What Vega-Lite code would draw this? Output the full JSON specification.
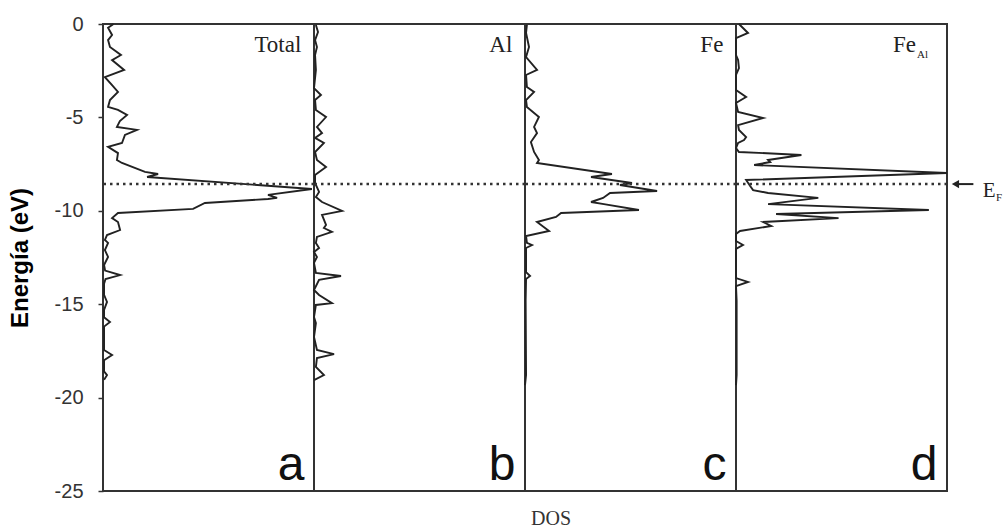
{
  "$schema": "https://vega.github.io/schema/vega-lite/v6.json",
  "background": "white",
  "bounds": "flush",
  "padding": {"left": 8, "top": 14, "right": 0, "bottom": 5},
  "data": {"values": [
    {"panel":"a","name":"Total","letter":"a"},
    {"panel":"b","name":"Al","letter":"b"},
    {"panel":"c","name":"Fe","letter":"c"},
    {"panel":"d","name":"Fe","sub":"Al","letter":"d"},
    {"panel":"a","energy":0,"dos":0.05},
    {"panel":"a","energy":-0.2,"dos":0.024},
    {"panel":"a","energy":-0.59,"dos":0.043},
    {"panel":"a","energy":-0.86,"dos":0.024},
    {"panel":"a","energy":-1.23,"dos":0.033},
    {"panel":"a","energy":-1.66,"dos":0.085},
    {"panel":"a","energy":-1.93,"dos":0.043},
    {"panel":"a","energy":-2.46,"dos":0.1},
    {"panel":"a","energy":-2.84,"dos":0.009},
    {"panel":"a","energy":-3.27,"dos":0.043},
    {"panel":"a","energy":-3.64,"dos":0.071},
    {"panel":"a","energy":-4.07,"dos":0.033},
    {"panel":"a","energy":-4.44,"dos":0.024},
    {"panel":"a","energy":-4.6,"dos":0.071},
    {"panel":"a","energy":-4.87,"dos":0.114},
    {"panel":"a","energy":-5.2,"dos":0.08},
    {"panel":"a","energy":-5.51,"dos":0.066},
    {"panel":"a","energy":-5.67,"dos":0.161},
    {"panel":"a","energy":-5.94,"dos":0.104},
    {"panel":"a","energy":-6.37,"dos":0.09},
    {"panel":"a","energy":-6.58,"dos":0.024},
    {"panel":"a","energy":-6.91,"dos":0.071},
    {"panel":"a","energy":-7.28,"dos":0.066},
    {"panel":"a","energy":-7.44,"dos":0.09},
    {"panel":"a","energy":-7.92,"dos":0.199},
    {"panel":"a","energy":-8.03,"dos":0.261},
    {"panel":"a","energy":-8.19,"dos":0.209},
    {"panel":"a","energy":-8.83,"dos":0.99},
    {"panel":"a","energy":-9.15,"dos":0.782},
    {"panel":"a","energy":-9.31,"dos":0.825},
    {"panel":"a","energy":-9.37,"dos":0.782},
    {"panel":"a","energy":-9.58,"dos":0.483},
    {"panel":"a","energy":-9.9,"dos":0.427},
    {"panel":"a","energy":-10.12,"dos":0.071},
    {"panel":"a","energy":-10.39,"dos":0.043},
    {"panel":"a","energy":-10.6,"dos":0.071},
    {"panel":"a","energy":-11.03,"dos":0.081},
    {"panel":"a","energy":-11.3,"dos":0.019},
    {"panel":"a","energy":-11.56,"dos":0.009},
    {"panel":"a","energy":-11.72,"dos":0.024},
    {"panel":"a","energy":-12.1,"dos":0.009},
    {"panel":"a","energy":-12.47,"dos":0.024},
    {"panel":"a","energy":-12.9,"dos":0.005},
    {"panel":"a","energy":-13.2,"dos":0.01},
    {"panel":"a","energy":-13.44,"dos":0.081},
    {"panel":"a","energy":-13.65,"dos":0.012},
    {"panel":"a","energy":-13.9,"dos":0.005},
    {"panel":"a","energy":-14.5,"dos":0.005},
    {"panel":"a","energy":-14.88,"dos":0.019},
    {"panel":"a","energy":-15.3,"dos":0.005},
    {"panel":"a","energy":-15.7,"dos":0.005},
    {"panel":"a","energy":-15.95,"dos":0.033},
    {"panel":"a","energy":-16.2,"dos":0.005},
    {"panel":"a","energy":-17.45,"dos":0.005},
    {"panel":"a","energy":-17.72,"dos":0.043},
    {"panel":"a","energy":-18.0,"dos":0.005},
    {"panel":"a","energy":-18.6,"dos":0.005},
    {"panel":"a","energy":-18.8,"dos":0.019},
    {"panel":"a","energy":-19.05,"dos":0.005},
    {"panel":"b","energy":-0.05,"dos":0.009},
    {"panel":"b","energy":-0.43,"dos":0.019},
    {"panel":"b","energy":-0.86,"dos":0.005},
    {"panel":"b","energy":-1.23,"dos":0.014},
    {"panel":"b","energy":-1.66,"dos":0.005},
    {"panel":"b","energy":-2.46,"dos":0.009},
    {"panel":"b","energy":-3.43,"dos":0.0},
    {"panel":"b","energy":-3.8,"dos":0.033},
    {"panel":"b","energy":-4.07,"dos":0.005},
    {"panel":"b","energy":-4.6,"dos":0.009},
    {"panel":"b","energy":-4.98,"dos":0.057},
    {"panel":"b","energy":-5.51,"dos":0.014},
    {"panel":"b","energy":-5.84,"dos":0.038},
    {"panel":"b","energy":-6.1,"dos":0.005},
    {"panel":"b","energy":-6.37,"dos":0.047},
    {"panel":"b","energy":-6.85,"dos":0.005},
    {"panel":"b","energy":-7.28,"dos":0.014},
    {"panel":"b","energy":-7.66,"dos":0.057},
    {"panel":"b","energy":-8.08,"dos":0.005},
    {"panel":"b","energy":-8.51,"dos":0.005},
    {"panel":"b","energy":-8.99,"dos":0.024},
    {"panel":"b","energy":-9.26,"dos":0.009},
    {"panel":"b","energy":-9.53,"dos":0.038},
    {"panel":"b","energy":-10.01,"dos":0.133},
    {"panel":"b","energy":-10.22,"dos":0.038},
    {"panel":"b","energy":-10.76,"dos":0.057},
    {"panel":"b","energy":-10.92,"dos":0.047},
    {"panel":"b","energy":-11.13,"dos":0.085},
    {"panel":"b","energy":-11.4,"dos":0.014},
    {"panel":"b","energy":-11.72,"dos":0.009},
    {"panel":"b","energy":-11.99,"dos":0.024},
    {"panel":"b","energy":-12.21,"dos":0.0},
    {"panel":"b","energy":-12.47,"dos":0.014},
    {"panel":"b","energy":-12.79,"dos":0.0},
    {"panel":"b","energy":-13.33,"dos":0.009},
    {"panel":"b","energy":-13.49,"dos":0.128},
    {"panel":"b","energy":-13.7,"dos":0.024},
    {"panel":"b","energy":-14.24,"dos":0.0},
    {"panel":"b","energy":-14.51,"dos":0.024},
    {"panel":"b","energy":-14.94,"dos":0.085},
    {"panel":"b","energy":-15.04,"dos":0.009},
    {"panel":"b","energy":-15.69,"dos":0.0},
    {"panel":"b","energy":-16.01,"dos":0.009},
    {"panel":"b","energy":-16.76,"dos":0.0},
    {"panel":"b","energy":-17.45,"dos":0.014},
    {"panel":"b","energy":-17.67,"dos":0.095},
    {"panel":"b","energy":-17.88,"dos":0.014},
    {"panel":"b","energy":-18.36,"dos":0.009},
    {"panel":"b","energy":-18.79,"dos":0.047},
    {"panel":"b","energy":-19.06,"dos":0.0},
    {"panel":"c","energy":-0.05,"dos":0.009},
    {"panel":"c","energy":-0.48,"dos":0.005},
    {"panel":"c","energy":-1.23,"dos":0.019},
    {"panel":"c","energy":-1.77,"dos":0.005},
    {"panel":"c","energy":-2.46,"dos":0.057},
    {"panel":"c","energy":-2.73,"dos":0.005},
    {"panel":"c","energy":-3.37,"dos":0.009},
    {"panel":"c","energy":-3.64,"dos":0.043},
    {"panel":"c","energy":-4.07,"dos":0.005},
    {"panel":"c","energy":-4.44,"dos":0.009},
    {"panel":"c","energy":-4.98,"dos":0.066},
    {"panel":"c","energy":-5.51,"dos":0.043},
    {"panel":"c","energy":-5.84,"dos":0.057},
    {"panel":"c","energy":-6.32,"dos":0.028},
    {"panel":"c","energy":-6.85,"dos":0.043},
    {"panel":"c","energy":-7.28,"dos":0.066},
    {"panel":"c","energy":-7.44,"dos":0.057},
    {"panel":"c","energy":-8.03,"dos":0.412},
    {"panel":"c","energy":-8.19,"dos":0.313},
    {"panel":"c","energy":-8.51,"dos":0.507},
    {"panel":"c","energy":-8.62,"dos":0.45},
    {"panel":"c","energy":-8.94,"dos":0.626},
    {"panel":"c","energy":-9.05,"dos":0.403},
    {"panel":"c","energy":-9.31,"dos":0.37},
    {"panel":"c","energy":-9.53,"dos":0.313},
    {"panel":"c","energy":-9.64,"dos":0.374},
    {"panel":"c","energy":-9.96,"dos":0.54},
    {"panel":"c","energy":-10.12,"dos":0.171},
    {"panel":"c","energy":-10.33,"dos":0.147},
    {"panel":"c","energy":-10.6,"dos":0.057},
    {"panel":"c","energy":-11.08,"dos":0.114},
    {"panel":"c","energy":-11.35,"dos":0.005},
    {"panel":"c","energy":-11.72,"dos":0.009},
    {"panel":"c","energy":-11.83,"dos":0.033},
    {"panel":"c","energy":-11.99,"dos":0.005},
    {"panel":"c","energy":-12.47,"dos":0.005},
    {"panel":"c","energy":-13.28,"dos":0.005},
    {"panel":"c","energy":-13.49,"dos":0.024},
    {"panel":"c","energy":-13.65,"dos":0.005},
    {"panel":"c","energy":-14.78,"dos":0.003},
    {"panel":"c","energy":-18.79,"dos":0.005},
    {"panel":"c","energy":-19.33,"dos":0.0},
    {"panel":"d","energy":0,"dos":0.014},
    {"panel":"d","energy":-0.48,"dos":0.057},
    {"panel":"d","energy":-0.75,"dos":0.0},
    {"panel":"d","energy":-1.66,"dos":0.0},
    {"panel":"d","energy":-1.93,"dos":0.01},
    {"panel":"d","energy":-2.36,"dos":0.014},
    {"panel":"d","energy":-2.73,"dos":0.0},
    {"panel":"d","energy":-3.53,"dos":0.0},
    {"panel":"d","energy":-3.91,"dos":0.048},
    {"panel":"d","energy":-4.23,"dos":0.0},
    {"panel":"d","energy":-4.71,"dos":0.01},
    {"panel":"d","energy":-5.03,"dos":0.129},
    {"panel":"d","energy":-5.41,"dos":0.01},
    {"panel":"d","energy":-5.67,"dos":0.014},
    {"panel":"d","energy":-6.05,"dos":0.048},
    {"panel":"d","energy":-6.21,"dos":0.038},
    {"panel":"d","energy":-6.37,"dos":0.01},
    {"panel":"d","energy":-6.64,"dos":0.0},
    {"panel":"d","energy":-6.85,"dos":0.014},
    {"panel":"d","energy":-7.01,"dos":0.31},
    {"panel":"d","energy":-7.28,"dos":0.152},
    {"panel":"d","energy":-7.39,"dos":0.162},
    {"panel":"d","energy":-7.55,"dos":0.086},
    {"panel":"d","energy":-7.98,"dos":1.0},
    {"panel":"d","energy":-8.35,"dos":0.048},
    {"panel":"d","energy":-8.67,"dos":0.067},
    {"panel":"d","energy":-8.89,"dos":0.081},
    {"panel":"d","energy":-9.05,"dos":0.152},
    {"panel":"d","energy":-9.31,"dos":0.39},
    {"panel":"d","energy":-9.64,"dos":0.152},
    {"panel":"d","energy":-9.96,"dos":0.914},
    {"panel":"d","energy":-10.17,"dos":0.19},
    {"panel":"d","energy":-10.39,"dos":0.486},
    {"panel":"d","energy":-10.6,"dos":0.129},
    {"panel":"d","energy":-10.81,"dos":0.167},
    {"panel":"d","energy":-11.08,"dos":0.019},
    {"panel":"d","energy":-11.24,"dos":0.0},
    {"panel":"d","energy":-11.62,"dos":0.0},
    {"panel":"d","energy":-11.83,"dos":0.033},
    {"panel":"d","energy":-12.04,"dos":0.0},
    {"panel":"d","energy":-13.6,"dos":0.0},
    {"panel":"d","energy":-13.81,"dos":0.057},
    {"panel":"d","energy":-14.03,"dos":0.0},
    {"panel":"d","energy":-14.8,"dos":0.003},
    {"panel":"d","energy":-18.8,"dos":0.003},
    {"panel":"d","energy":-19.33,"dos":0.0}
  ]},
  "facet": {
    "column": {
      "field": "panel", "type": "nominal", "sort": ["a","b","c","d"],
      "header": {
        "labels": false, "title": "DOS", "titleOrient": "bottom",
        "titleFont": "Liberation Serif", "titleFontSize": 20, "titleFontWeight": "normal",
        "titleColor": "#333", "titlePadding": 8
      }
    }
  },
  "spacing": 0,
  "spec": {
    "width": 211,
    "height": 467,
    "layer": [
      {
        "transform": [{"filter": "isValid(datum.dos)"}],
        "mark": {"type": "line", "stroke": "#222", "strokeWidth": 1.9},
        "encoding": {
          "x": {"field": "dos", "type": "quantitative", "scale": {"domain": [0, 1], "nice": false, "zero": false}, "axis": null},
          "y": {"field": "energy", "type": "quantitative",
            "scale": {"domain": [-25, 0], "nice": false, "zero": false},
            "axis": {"values": [-25, -20, -15, -10, -5, 0], "title": "Energía (eV)",
              "labelExpr": "toString(datum.value)",
              "titleFont": "Liberation Sans", "titleFontSize": 24, "titleFontWeight": "bold", "titleColor": "#000",
              "labelFont": "Liberation Sans", "labelFontSize": 20, "labelColor": "#333",
              "tickSize": 5, "tickColor": "#333", "tickWidth": 1.5, "labelPadding": 15, "titlePadding": 22,
              "domain": false, "grid": false}},
          "order": {"field": "energy", "type": "quantitative"}
        }
      },
      {
        "transform": [{"filter": "isValid(datum.letter)"}],
        "mark": {"type": "rule", "stroke": "#333", "strokeWidth": 2.5, "strokeDash": [2.5, 4]},
        "encoding": {"y": {"datum": -8.57}}
      },
      {
        "transform": [{"filter": "isValid(datum.letter) && datum.panel != 'd'"}],
        "mark": {"type": "text", "align": "right", "baseline": "alphabetic", "font": "Liberation Serif", "fontSize": 23, "color": "#222"},
        "encoding": {"x": {"datum": 0.94}, "y": {"datum": -1.5}, "text": {"field": "name"}}
      },
      {
        "transform": [{"filter": "isValid(datum.letter) && datum.panel == 'd'"}],
        "mark": {"type": "text", "align": "right", "baseline": "alphabetic", "font": "Liberation Serif", "fontSize": 23, "color": "#222"},
        "encoding": {"x": {"datum": 0.853}, "y": {"datum": -1.5}, "text": {"field": "name"}}
      },
      {
        "transform": [{"filter": "isValid(datum.letter) && datum.panel == 'd'"}],
        "mark": {"type": "text", "align": "left", "baseline": "alphabetic", "font": "Liberation Serif", "fontSize": 11, "color": "#222"},
        "encoding": {"x": {"datum": 0.858}, "y": {"datum": -1.8}, "text": {"field": "sub"}}
      },
      {
        "transform": [{"filter": "isValid(datum.letter)"}],
        "mark": {"type": "text", "align": "right", "baseline": "alphabetic", "font": "Liberation Sans", "fontSize": 48, "color": "#111"},
        "encoding": {"x": {"datum": 0.955}, "y": {"datum": -24.4}, "text": {"field": "letter"}}
      },
      {
        "transform": [{"filter": "isValid(datum.letter) && datum.panel == 'd'"}],
        "mark": {"type": "rule", "stroke": "#222", "strokeWidth": 2},
        "encoding": {"x": {"datum": 1.04}, "x2": {"datum": 1.125}, "y": {"datum": -8.57}}
      },
      {
        "transform": [{"filter": "isValid(datum.letter) && datum.panel == 'd'"}],
        "mark": {"type": "point", "shape": "triangle-left", "filled": true, "color": "#222", "size": 70, "opacity": 1},
        "encoding": {"x": {"datum": 1.04}, "y": {"datum": -8.57}}
      },
      {
        "transform": [{"filter": "isValid(datum.letter) && datum.panel == 'd'"}],
        "mark": {"type": "text", "align": "left", "baseline": "alphabetic", "font": "Liberation Serif", "fontSize": 21, "color": "#222"},
        "encoding": {"x": {"datum": 1.17}, "y": {"datum": -9.26}, "text": {"value": "E"}}
      },
      {
        "transform": [{"filter": "isValid(datum.letter) && datum.panel == 'd'"}],
        "mark": {"type": "text", "align": "left", "baseline": "alphabetic", "font": "Liberation Serif", "fontSize": 11, "color": "#222"},
        "encoding": {"x": {"datum": 1.232}, "y": {"datum": -9.5}, "text": {"value": "F"}}
      }
    ]
  },
  "config": {
    "view": {"stroke": "#333", "strokeWidth": 2},
    "font": "Liberation Sans"
  }
}
